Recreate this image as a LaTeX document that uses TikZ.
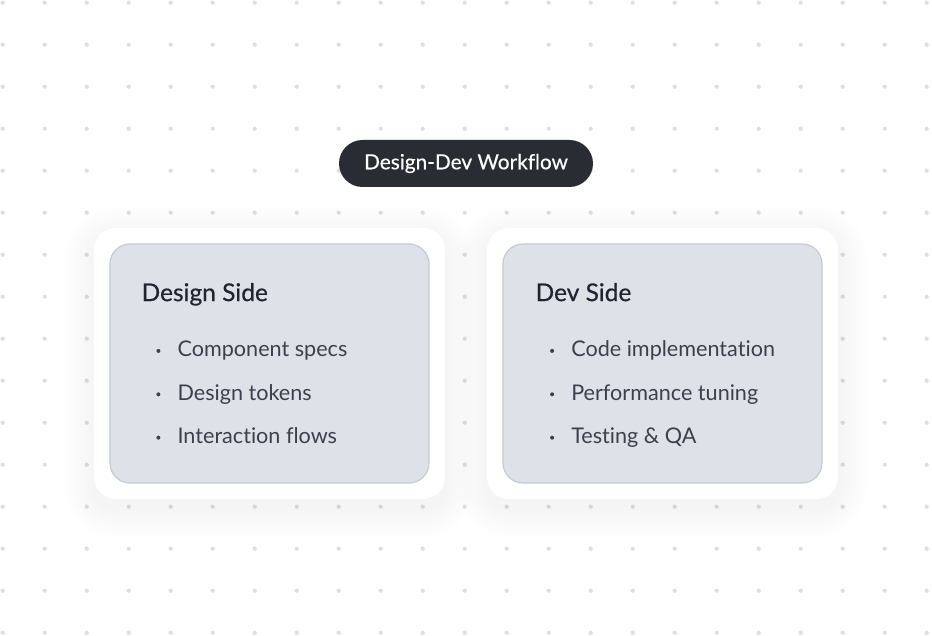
\documentclass[tikz,border=0pt]{standalone}
\usepackage{fontspec}
\setmainfont[Ligatures=NoCommon]{Lato}
\newfontfamily\headfont[FakeBold=0.5,Ligatures=NoCommon]{Lato}
\usepackage{tikz}
\usetikzlibrary{calc,positioning}

\definecolor{dotc}{HTML}{DEDEDE}
\definecolor{pillc}{HTML}{2A2C33}
\definecolor{cardc}{HTML}{DDE2E8}
\definecolor{edgec}{HTML}{C5CBD3}
\definecolor{headc}{HTML}{1F2530}
\definecolor{itemc}{HTML}{3A414D}

\begin{document}
\begin{tikzpicture}[x=1pt,y=-1pt,
  pill/.style={shape=rectangle,rounded corners=23.5pt,fill=pillc,text=white,minimum width=254pt,minimum height=47pt,
  font=\headfont\fontsize{20.8}{20.8}\selectfont},
  card/.style={shape=rectangle,rounded corners=20pt,fill=cardc,draw=edgec,line width=1.2pt,minimum width=319pt,minimum height=239pt},
  frame/.style={shape=rectangle,rounded corners=22pt,fill=white,minimum width=351pt,minimum height=271pt},
  head/.style={anchor=base west,inner sep=0pt,text=headc,font=\headfont\fontsize{24.5}{24.5}\selectfont},
  item/.style={anchor=base west,inner sep=0pt,text=itemc,font=\fontsize{21.6}{21.6}\selectfont}]
\useasboundingbox[fill=white] (0,0) rectangle (932,636);
% dot grid
\foreach \i in {0,...,22}
  \foreach \j in {0,...,15}
    \fill[dotc] (2.7+42*\i,2.7+42*\j) circle (2.1);
% soft shadows under the white frames
\foreach \x in {94,487}
  \foreach \k in {3,6,...,30}
    \fill[black,opacity=0.0035,rounded corners=22+\k] (\x-\k,236-\k) rectangle (\x+351+\k,508+\k);
\node[frame] (dsgnf) at (269.5,363.5) {};
\node[frame] (devf) at (662.5,363.5) {};
\node[card] (dsgn) at (dsgnf.center) {};
\node[card] (dev) at (devf.center) {};
\node[pill] (wf) at (466,163.5) {Design-Dev Workflow};
% headings and items
\node[head] (dsgnh) at ($(dsgn.north west)+(32,57.7)$) {Design Side};
\node[head] (devh) at ($(dev.north west)+(33,57.7)$) {Dev Side};
\foreach \t [count=\i] in {Component specs,Design tokens,Interaction flows}{
  \node[item] (d\i) at ($(dsgn.north west)+(68,{113.5+43.4*(\i-1)})$) {\t};
  \fill[itemc] ($(d\i.base west)+(-19,-6)$) circle (2);
}
\foreach \t [count=\i] in {Code implementation,Performance tuning,Testing \& QA}{
  \node[item] (v\i) at ($(dev.north west)+(68.7,{113.5+43.4*(\i-1)})$) {\t};
  \fill[itemc] ($(v\i.base west)+(-19,-6)$) circle (2);
}
\end{tikzpicture}
\end{document}
